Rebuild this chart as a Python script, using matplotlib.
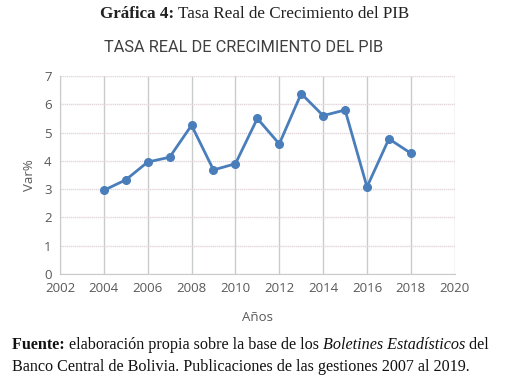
import numpy as np
from matplotlib import pyplot as plt

# tasa real de crecimiento del PIB (Var%)
years = [2004, 2005, 2006, 2007, 2008, 2009, 2010, 2011,
         2012, 2013, 2014, 2015, 2016, 2017, 2018]
growth = [2.96, 3.33, 3.96, 4.13, 5.26, 3.68, 3.90, 5.50,
          4.60, 6.38, 5.60, 5.80, 3.08, 4.78, 4.27]
xticks = list(range(2002, 2021, 2))
yticks = list(range(0, 8))

serif = "Liberation Serif"
sans = "Open Sans"
tick_color = "#595959"

fig = plt.figure(figsize=(5.10, 3.86), dpi=100)
ax = fig.add_axes([0.1176, 0.290, 0.774, 0.513])

ax.plot(years, growth, color="#4a7ebb", linewidth=2, marker="o",
        markersize=5.5, markerfacecolor="#4a7ebb", markeredgecolor="#4a7ebb")

ax.set_xlim(2002, 2020)
ax.set_ylim(0, 7)
ax.set_xticks(xticks)
ax.set_yticks(yticks)
ax.tick_params(length=0, labelsize=9.5, colors=tick_color, pad=6)
for lbl in ax.get_xticklabels() + ax.get_yticklabels():
    lbl.set_fontfamily(sans)
ax.grid(axis="x", color="#c8ccc8", linewidth=1)
ax.grid(axis="y", color="#e2d6dc", linewidth=1, linestyle=(0, (1, 0.5)))
for side in ["top", "right"]:
    ax.spines[side].set_visible(False)
for side in ["left", "bottom"]:
    ax.spines[side].set_color("#c8ccc8")
ax.set_axisbelow(True)

ax.set_ylabel("Var%", fontsize=9.5, color=tick_color, family=sans, labelpad=6)
ax.set_xlabel("Años", fontsize=9.5, color=tick_color, family=sans, labelpad=11)

# titulo interno del grafico
fig.text(0.477, 0.878, "TASA REAL DE CRECIMIENTO DEL PIB", ha="center", va="center",
         fontsize=11.8, color="#404040", family="Roboto")

# encabezado con partes en negrita
t1 = fig.text(0.196, 0.953, "Gráfica 4: ", ha="left", va="baseline",
              fontsize=12.25, family=serif, weight="bold", color="#222222")
ax.annotate("Tasa Real de Crecimiento del PIB", xy=(1, 0), xycoords=t1,
            va="bottom", ha="left", fontsize=12.25, family=serif, color="#222222",
            annotation_clip=False)

# fuente al pie
f1 = fig.text(0.024, 0.095, "Fuente: ", ha="left", va="baseline",
              fontsize=11.6, family=serif, weight="bold", color="#111111")
f2 = ax.annotate("elaboración propia sobre la base de los ", xy=(1, 0), xycoords=f1,
                 va="bottom", ha="left", fontsize=11.6, family=serif, color="#111111",
                 annotation_clip=False)
f3 = ax.annotate("Boletines Estadísticos", xy=(1, 0), xycoords=f2,
                 va="bottom", ha="left", fontsize=11.6, family=serif, style="italic",
                 color="#111111", annotation_clip=False)
ax.annotate(" del", xy=(1, 0), xycoords=f3,
            va="bottom", ha="left", fontsize=11.6, family=serif, color="#111111",
            annotation_clip=False)
fig.text(0.024, 0.038, "Banco Central de Bolivia. Publicaciones de las gestiones 2007 al 2019.",
         ha="left", va="baseline", fontsize=11.6, family=serif, color="#111111")

plt.savefig("out.png", dpi=100)
